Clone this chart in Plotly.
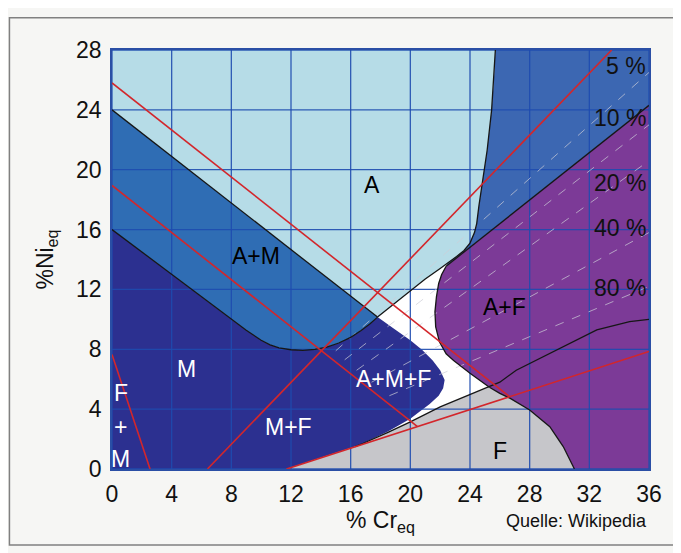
import plotly.graph_objects as go

# ---------------- data ----------------
X_TICKS = [0, 4, 8, 12, 16, 20, 24, 28, 32, 36]
Y_TICKS = [0, 4, 8, 12, 16, 20, 24, 28]

# boundary between A and A+M (straight line)
AM_UPPER_X = [0, 17.8]
AM_UPPER_Y = [24, 10.15]

# boundary between A+M and M
M_UPPER_X = [0, 8.0, 9.0, 10.0, 10.6, 11.2, 12.0, 12.8, 13.6, 14.4, 15.2, 16.0, 16.7, 17.3, 17.8]
M_UPPER_Y = [16, 10.0, 9.27, 8.6, 8.3, 8.1, 7.97, 7.93, 8.0, 8.15, 8.42, 8.8, 9.25, 9.7, 10.15]

# right boundary of the austenite field
A_RIGHT_X = [17.8, 19.0, 20.0, 21.0, 22.0, 22.5, 23.1, 23.6, 24.0, 24.3, 24.45, 24.6, 24.85, 25.15, 25.45, 25.6, 25.7]
A_RIGHT_Y = [10.15, 11.1, 11.95, 12.7, 13.4, 13.75, 14.2, 14.6, 15.1, 15.8, 16.4, 17.6, 19.3, 21.3, 24.0, 26.0, 28]

# upper boundary of A+F
AF_TOP_X = [22.4, 36]
AF_TOP_Y = [13.55, 24.3]

# left (bulging) boundary of A+F
AF_LEFT_X = [22.4, 22.1, 21.9, 21.75, 21.65, 21.7, 21.95, 22.4, 22.9, 24.0, 25.3]
AF_LEFT_Y = [13.55, 13.0, 12.4, 11.5, 10.5, 9.5, 8.5, 7.7, 7.25, 6.4, 5.46]

# boundary between F and A+F
F_RIGHT_X = [25.3, 26.0, 26.7, 28.0, 29.35, 30.25, 30.7, 31.0]
F_RIGHT_Y = [5.46, 5.05, 4.72, 3.94, 2.83, 1.5, 0.6, 0.0]

# upper boundary of F and its continuation in A+F
F_TOP_X = [16.3, 16.85, 18.5, 20.0, 22.0, 23.7, 25.3]
F_TOP_Y = [1.5, 1.72, 2.45, 3.15, 4.15, 4.85, 5.46]
F_EXT_X = [25.3, 26.0, 27.1, 28.7, 30.25, 32.5, 34.7, 36.0]
F_EXT_Y = [5.46, 5.8, 6.6, 7.4, 8.18, 9.3, 9.85, 10.0]

# rounded edge of the A+M+F (dark blue) field
AMF_EDGE_X = [17.8, 19.0, 20.0, 20.8, 21.5, 22.0, 22.3, 22.2, 21.9, 21.3, 20.5, 20.0, 18.5, 16.85, 16.3]
AMF_EDGE_Y = [10.15, 9.3, 8.6, 7.95, 7.25, 6.6, 5.95, 5.4, 4.9, 4.35, 3.75, 3.35, 2.5, 1.72, 1.5]

F_START_X = 11.7   # where F field meets the x axis on the left
F_END_X = 31.0     # where F field meets the x axis on the right

# red lines (start / end)
RED_X = [[0, 26.65], [0, 20.48], [6.4, 33.5], [11.7, 36], [0, 2.55]]
RED_Y = [[25.8, 4.83], [18.95, 2.83], [0, 28.0], [0, 7.85], [7.65, 0]]

# ferrite percentage lines (dashed)
FERRITE_LABELS = ["5 %", "10 %", "20 %", "40 %", "80 %"]
FERRITE_X = [[15.0, 36], [15.6, 36], [16.4, 36], [17.4, 36], [18.6, 36]]
FERRITE_Y = [[7.9, 26.5], [7.3, 23.0], [6.6, 20.6], [5.8, 15.8], [4.9, 12.2]]
FERRITE_LABEL_Y = [26.9, 23.45, 19.1, 16.1, 12.1]

REGION_LABELS = ["A", "A+M", "M", "M+F", "A+M+F", "A+F", "F"]
REGION_X = [17.4, 9.65, 5.0, 11.85, 18.85, 26.3, 26.0]
REGION_Y = [19.0, 14.25, 6.7, 2.82, 6.0, 10.85, 1.17]
REGION_COLORS = ["black", "black", "white", "white", "white", "black", "black"]
FM_TEXT = ["F", "+", "M"]
FM_Y = [5.07, 2.82, 0.7]

# ---------------- polygons assembled from boundaries ----------------
def rev(a):
    return list(reversed(a))

poly_A_x = [0, 25.7] + rev(A_RIGHT_X) + [0]
poly_A_y = [28, 28] + rev(A_RIGHT_Y) + [24]

idx = [i for i, x in enumerate(A_RIGHT_X) if x >= 22.45]
poly_UR_x = [36, 36] + rev(AF_TOP_X) + [A_RIGHT_X[i] for i in idx] + [36]
poly_UR_y = [28, 24.3] + rev(AF_TOP_Y) + [A_RIGHT_Y[i] for i in idx] + [28]

poly_AM_x = AM_UPPER_X + rev(M_UPPER_X)
poly_AM_y = AM_UPPER_Y + rev(M_UPPER_Y)

poly_M_x = [0] + M_UPPER_X + AMF_EDGE_X + [F_START_X]
poly_M_y = [0] + M_UPPER_Y + AMF_EDGE_Y + [0]

poly_AF_x = AF_TOP_X + [36, F_END_X] + rev(F_RIGHT_X) + rev(AF_LEFT_X)
poly_AF_y = AF_TOP_Y + [0, 0] + rev(F_RIGHT_Y) + rev(AF_LEFT_Y)

poly_F_x = [F_START_X] + F_TOP_X + F_RIGHT_X[1:] + [F_START_X]
poly_F_y = [0] + F_TOP_Y + F_RIGHT_Y[1:] + [0]

fig = go.Figure()

def fill(x, y, color):
    fig.add_trace(go.Scatter(x=x, y=y, mode="none", fill="toself", fillcolor=color,
                             hoverinfo="skip", showlegend=False))

fill(poly_A_x, poly_A_y, "#b6dce7")
fill(poly_UR_x, poly_UR_y, "#3c67b2")
fill(poly_AM_x, poly_AM_y, "#2f6db4")
fill(poly_M_x, poly_M_y, "#2c3090")
fill(poly_AF_x, poly_AF_y, "#7c3a97")
fill(poly_F_x, poly_F_y, "#c6c6ca")

# grid
gx, gy = [], []
for t in X_TICKS:
    gx += [t, t, None]
    gy += [0, 28, None]
for t in Y_TICKS:
    gx += [0, 36, None]
    gy += [t, t, None]
fig.add_trace(go.Scatter(x=gx, y=gy, mode="lines", line=dict(color="rgba(30,75,175,0.9)", width=1.3),
                         hoverinfo="skip", showlegend=False))

# ferrite dashed lines
for xs, ys in zip(FERRITE_X, FERRITE_Y):
    fig.add_trace(go.Scatter(x=xs, y=ys, mode="lines",
                             line=dict(color="rgba(205,205,215,0.7)", width=1, dash="dash"),
                             hoverinfo="skip", showlegend=False))

# black boundaries
for xs, ys in [(AM_UPPER_X, AM_UPPER_Y), (M_UPPER_X, M_UPPER_Y), (A_RIGHT_X, A_RIGHT_Y),
               (AF_TOP_X, AF_TOP_Y), (AF_LEFT_X, AF_LEFT_Y), (F_RIGHT_X, F_RIGHT_Y),
               (F_TOP_X + F_EXT_X[1:], F_TOP_Y + F_EXT_Y[1:])]:
    fig.add_trace(go.Scatter(x=xs, y=ys, mode="lines", line=dict(color="#161616", width=1.3),
                             hoverinfo="skip", showlegend=False))

# red lines
for xs, ys in zip(RED_X, RED_Y):
    fig.add_trace(go.Scatter(x=xs, y=ys, mode="lines", line=dict(color="#d3262b", width=1.6),
                             hoverinfo="skip", showlegend=False))

FONT = "Liberation Sans, Arial, sans-serif"
ann = []
for t, x, y, c in zip(REGION_LABELS, REGION_X, REGION_Y, REGION_COLORS):
    ann.append(dict(x=x, y=y, xref="x", yref="y", text=t, showarrow=False,
                    font=dict(family=FONT, size=23, color=c)))
for t, y in zip(FM_TEXT, FM_Y):
    ann.append(dict(x=0.6, y=y, xref="x", yref="y", text=t, showarrow=False,
                    font=dict(family=FONT, size=23, color="white")))
for t, y in zip(FERRITE_LABELS, FERRITE_LABEL_Y):
    ann.append(dict(x=35.95, y=y, xref="x", yref="y", text=t, showarrow=False, xanchor="right",
                    font=dict(family=FONT, size=23, color="#111111")))
ann.append(dict(x=1.0, y=-0.095, xref="paper", yref="paper", text="Quelle: Wikipedia",
                showarrow=False, xanchor="right", yanchor="top",
                font=dict(family="Liberation Sans Narrow, Liberation Sans, Arial, sans-serif",
                          size=18, color="#111111")))

axis_common = dict(showgrid=False, zeroline=False, showline=True, mirror=True,
                   linecolor="#2a4fa5", linewidth=1.5, ticks="outside", ticklen=4,
                   tickcolor="rgba(0,0,0,0)", tickfont=dict(family=FONT, size=23, color="#111111"))

# The page adds an 8px body margin, so the figure is 8px smaller than the window.
fig.update_layout(
    width=673, height=545,
    margin=dict(l=104, r=32, t=42, b=84),
    paper_bgcolor="#f6f6f4",
    plot_bgcolor="white",
    xaxis=dict(range=[0, 36], tickvals=X_TICKS, title=dict(text="% Cr<sub>eq</sub>", standoff=4,
               font=dict(family=FONT, size=23, color="#111111")), **axis_common),
    yaxis=dict(range=[0, 28], tickvals=Y_TICKS, title=dict(text="%Ni<sub>eq</sub>", standoff=16,
               font=dict(family=FONT, size=23, color="#111111")), **axis_common),
    annotations=ann,
    shapes=[dict(type="rect", xref="paper", yref="paper", x0=-0.191, x1=1.2, y0=-0.1814, y1=1.077,
                 line=dict(color="#808080", width=1.5), fillcolor="rgba(0,0,0,0)", layer="below")],
    showlegend=False,
)

fig.write_html("out.html")
